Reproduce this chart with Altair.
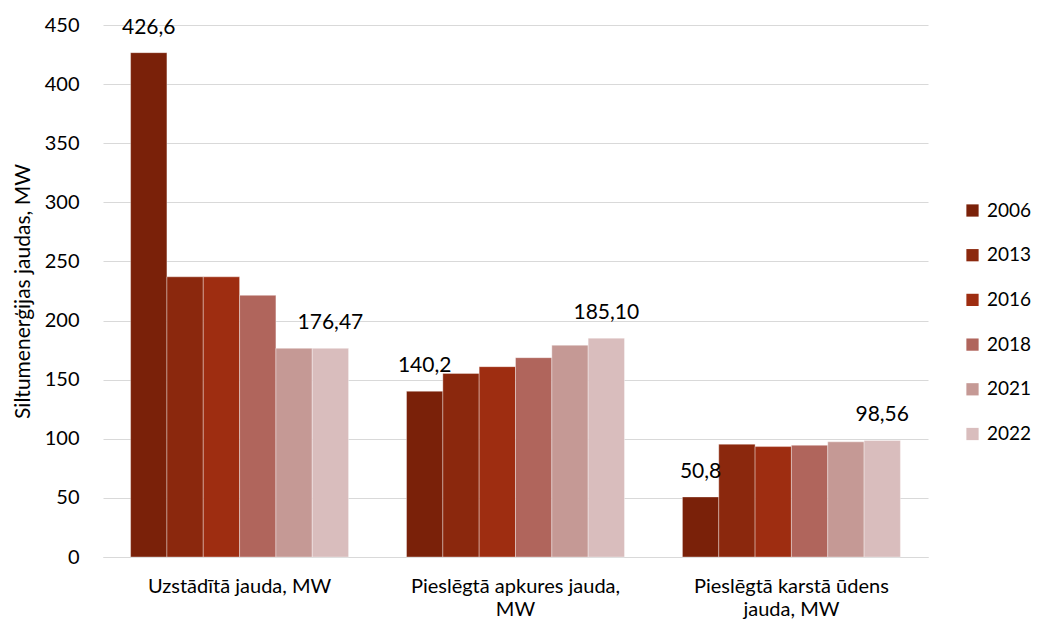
import altair as alt
import pandas as pd

categories = ["Uzstādītā jauda, MW", "Pieslēgtā apkures jauda, MW", "Pieslēgtā karstā ūdens jauda, MW"]
category_lines = [["Uzstādītā jauda, MW"], ["Pieslēgtā apkures jauda,", "MW"], ["Pieslēgtā karstā ūdens", "jauda, MW"]]
years = ["2006", "2013", "2016", "2018", "2021", "2022"]
colors = ["#7a2109", "#8b280d", "#9e2d11", "#b0655c", "#c59995", "#d9bdbd"]

values_installed = [426.6, 237.0, 237.0, 221.3, 176.5, 176.47]
values_heating = [140.2, 155.3, 161.0, 168.6, 179.1, 185.10]
values_hotwater = [50.8, 95.4, 93.4, 94.5, 97.4, 98.56]

labels_installed = ["426,6", "", "", "", "", "176,47"]
labels_heating = ["140,2", "", "", "", "", "185,10"]
labels_hotwater = ["50,8", "", "", "", "", "98,56"]

rows = []
for cat, vals, labs in zip(categories,
                           [values_installed, values_heating, values_hotwater],
                           [labels_installed, labels_heating, labels_hotwater]):
    for y, v, l in zip(years, vals, labs):
        rows.append({"category": cat, "year": y, "value": v, "label": l})
df = pd.DataFrame(rows)

label_expr = " : ".join(
    [f"datum.label == '{c}' ? {lines!r}" for c, lines in zip(categories, category_lines)]
) + " : datum.label"

FONT = "Lato"

base = alt.Chart(df).encode(
    x=alt.X("category:N", sort=categories, title=None,
            scale=alt.Scale(paddingInner=0.21, paddingOuter=0.1),
            axis=alt.Axis(labelExpr=label_expr, labelAngle=0, labelFontSize=20,
                          labelColor="#000000", labelFont=FONT, ticks=False,
                          domainColor="#d9d9d9", domainWidth=1, labelPadding=19,
                          labelLineHeight=23, labelLimit=400, grid=False)),
    xOffset=alt.XOffset("year:N", sort=years),
)

bars = base.mark_bar(stroke="#ffffff", strokeWidth=0.6, strokeOpacity=0.6).encode(
    y=alt.Y("value:Q", title="Siltumenerģijas jaudas, MW",
            scale=alt.Scale(domain=[0, 450], nice=False),
            axis=alt.Axis(values=list(range(0, 451, 50)), labelFontSize=20,
                          labelColor="#000000", labelFont=FONT, titleFont=FONT,
                          titleFontSize=21, titleFontWeight="normal", titleColor="#000000",
                          ticks=False, domain=False, gridColor="#d9d9d9", gridWidth=1,
                          labelPadding=24, titlePadding=11)),
    color=alt.Color("year:N", sort=years, scale=alt.Scale(domain=years, range=colors),
                    legend=alt.Legend(title=None, orient="none", legendX=860, legendY=176,
                                      symbolType="square", symbolSize=150,
                                      symbolStrokeWidth=0, labelFontSize=19,
                                      labelFont=FONT, labelColor="#000000",
                                      rowPadding=24.7, labelOffset=5, labelLimit=200)),
)

texts = base.mark_text(baseline="middle", dy=-25, fontSize=21, font=FONT, color="#000000").encode(
    y=alt.Y("value:Q"),
    text="label:N",
)

chart = alt.layer(bars, texts).properties(
    width=825, height=532,
    autosize=alt.AutoSizeParams(type="none"),
    padding={"left": 95, "top": 17, "right": 104, "bottom": 62},
).configure_view(stroke=None).configure_axis(gridColor="#d9d9d9")

chart.save("out.html", embed_options={"renderer": "svg", "actions": False})
